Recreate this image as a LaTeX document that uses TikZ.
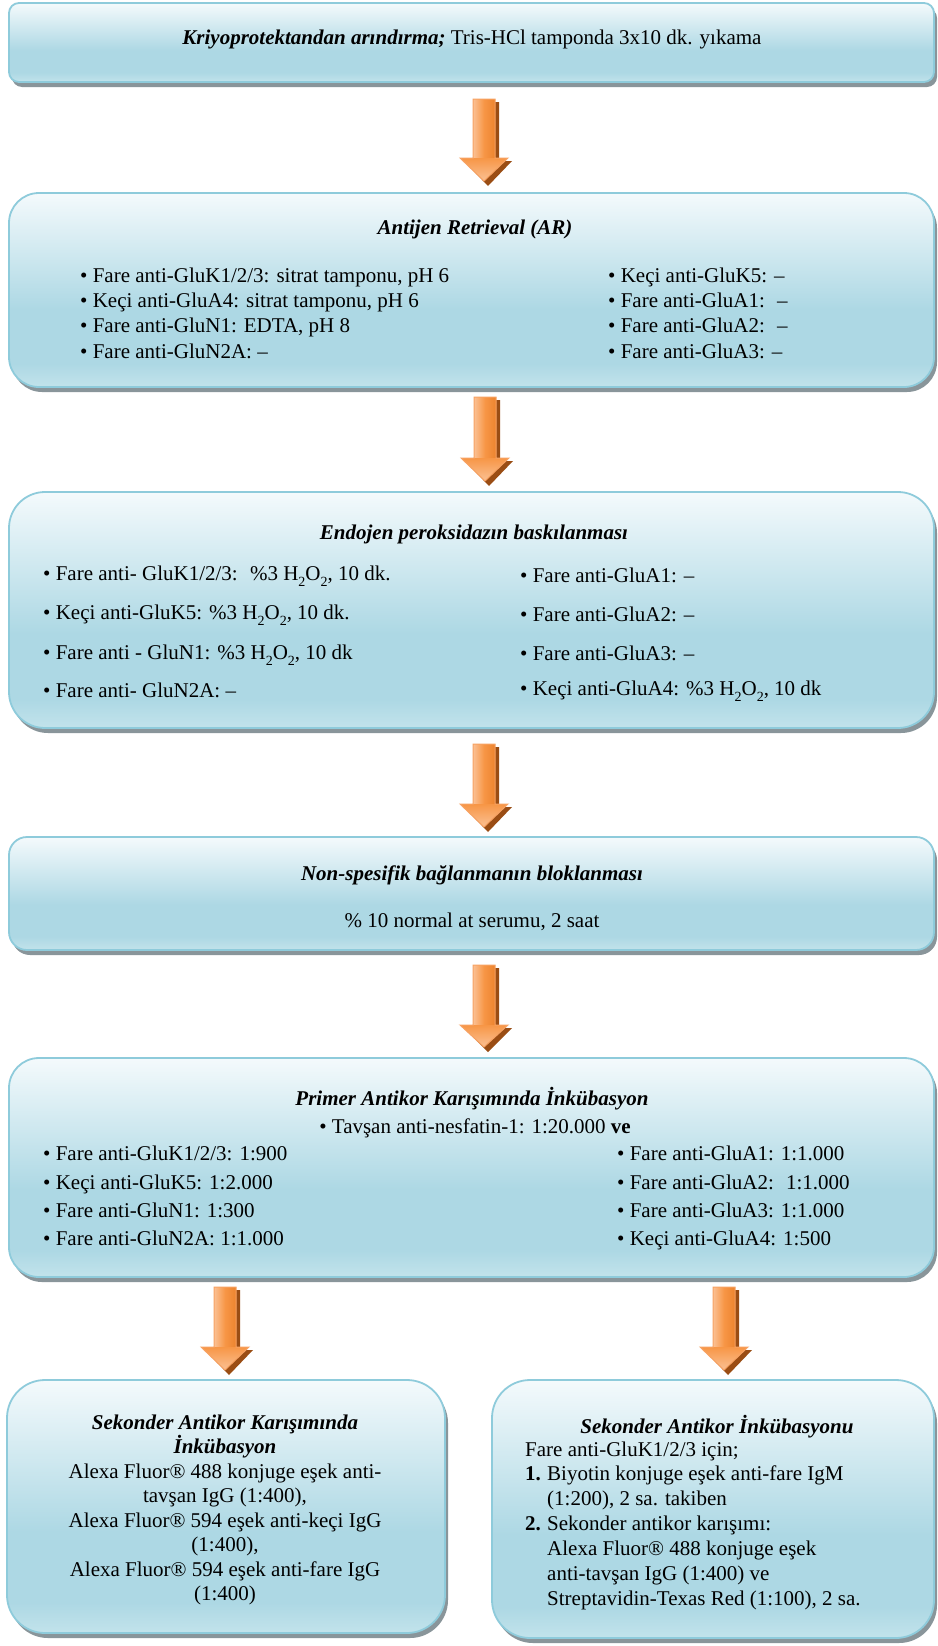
\documentclass[tikz,border=0pt]{standalone}
\usepackage{fontspec}
\setmainfont{Liberation Serif}
\usetikzlibrary{shadows}
\definecolor{bordc}{HTML}{8ECBDB}
\definecolor{shadc}{HTML}{89959A}
\definecolor{boxtop}{HTML}{F4FAFC}
\definecolor{boxmid}{HTML}{ADD8E4}
\definecolor{boxbot}{HTML}{C2E3EB}
\definecolor{arrL}{HTML}{FBC194}
\definecolor{arrM}{HTML}{F79646}
\definecolor{arrD}{HTML}{EC842F}
\definecolor{arrS}{HTML}{9A4D14}
\definecolor{arrE}{HTML}{F7A263}
\pgfdeclareverticalshading{boxshade}{100bp}{color(0bp)=(boxbot); color(25bp)=(boxbot); color(31bp)=(boxmid); color(45bp)=(boxmid); color(75bp)=(boxtop); color(100bp)=(boxtop)}
\tikzset{
  box/.style={draw=bordc, line width=1.8pt, shading=boxshade, inner sep=0pt,
    drop shadow={shadow xshift=3pt, shadow yshift=-5pt, fill=shadc, opacity=1}},
  txt/.style={inner sep=0pt, font=\fontsize{21}{25}\selectfont, text=black},
}
\newcommand\bbi[1]{\textbf{\textit{#1}}}
\newcommand\hsub[1]{\raisebox{-6pt}{\fontsize{14}{14}\selectfont #1}}
\newcommand\hho{H\hsub{2}O\hsub{2}}
% name, left, top, right, bottom, radius
\newcommand\boxat[6]{\node[box, rounded corners=#6pt, minimum width={(#4-#2)*1pt}, minimum height={(#5-#3)*1pt}] (#1) at ({(#2+#4)/2},{(#3+#5)/2}) {};}
% name, x, baseline, text
\newcommand\lineat[4]{\node[txt, anchor=base west] (#1) at (#2,#3) {#4};}
\newcommand\ctrline[4]{\node[txt, anchor=base] (#1) at (#2,#3) {#4};}
% name, cx, top, headstart, tip
\newcommand\blockarrow[5]{%
  \coordinate (#1t) at (#2,#3);
  \coordinate (#1h) at (#2,#5);
  \fill[arrS] ({#2-11+4},{#3+3}) -- ({#2+11+4},{#3+3}) -- ({#2+11+4},{#4+3}) -- ({#2+24+4},{#4+3}) -- ({#2+4},{#5+5}) -- ({#2-24+4},{#4+3}) -- ({#2-11+4},{#4+3}) -- cycle;
  \shade[left color=arrL, right color=arrD, middle color=arrM] ({#2-11},#3) rectangle ({#2+11},{#4+1});
  \shade[top color=arrM, bottom color=arrL] ({#2-24},#4) -- ({#2+24},#4) -- (#2,#5) -- cycle;
  \draw[arrE, line width=1pt, line join=miter] ({#2-11},#3) -- ({#2+11},#3) -- ({#2+11},#4) -- ({#2+24},#4) -- (#2,#5) -- ({#2-24},#4) -- ({#2-11},#4) -- cycle;
}
\begin{document}
\begin{tikzpicture}[x=1pt, y=-1pt]
\useasboundingbox (0,0) rectangle (937,1646);
\fill[white] (0,0) rectangle (937,1646);

% boxes
\boxat{b1}{9}{3}{934}{82}{10}
\boxat{b2}{9}{193}{934}{387}{30}
\boxat{b3}{9}{492}{934}{728}{36}
\boxat{b4}{9}{837}{934}{950}{18}
\boxat{b5}{9}{1058}{934}{1277}{30}
\boxat{b6}{7}{1380}{445}{1633}{38}
\boxat{b7}{492}{1380}{934}{1638}{38}

% arrows
\blockarrow{a1}{484}{99}{158}{181}
\blockarrow{a2}{485}{397}{458}{481}
\blockarrow{a3}{484}{744}{804}{827}
\blockarrow{a4}{484}{965}{1025}{1047}
\blockarrow{a5}{225}{1287}{1347}{1370}
\blockarrow{a6}{724}{1287}{1347}{1370}

% box 1
\ctrline{t1}{472}{45}{\bbi{Kriyoprotektandan arındırma;} Tris-HCl tamponda 3x10 dk. yıkama}

% box 2
\ctrline{t2}{475}{234}{\bbi{Antijen Retrieval (AR)}}
\lineat{t2a}{80}{282}{• Fare anti-GluK1/2/3: sitrat tamponu, pH 6}
\lineat{t2b}{80}{307}{• Keçi anti-GluA4: sitrat tamponu, pH 6}
\lineat{t2c}{80}{332}{• Fare anti-GluN1: EDTA, pH 8}
\lineat{t2d}{80}{358}{• Fare anti-GluN2A: –}
\lineat{t2e}{608}{282}{• Keçi anti-GluK5: –}
\lineat{t2f}{608}{307}{• Fare anti-GluA1: \ –}
\lineat{t2g}{608}{332}{• Fare anti-GluA2: \ –}
\lineat{t2h}{608}{358}{• Fare anti-GluA3: –}

% box 3
\ctrline{t3}{474}{539}{\bbi{Endojen peroksidazın baskılanması}}
\lineat{t3a}{43}{580}{• Fare anti- GluK1/2/3: \ \%3 \hho, 10 dk.}
\lineat{t3b}{43}{619}{• Keçi anti-GluK5: \%3 \hho, 10 dk.}
\lineat{t3c}{43}{659}{• Fare anti - GluN1: \%3 \hho, 10 dk}
\lineat{t3d}{43}{697}{• Fare anti- GluN2A: –}
\lineat{t3e}{520}{582}{• Fare anti-GluA1: –}
\lineat{t3f}{520}{621}{• Fare anti-GluA2: –}
\lineat{t3g}{520}{660}{• Fare anti-GluA3: –}
\lineat{t3h}{520}{695}{• Keçi anti-GluA4: \%3 \hho, 10 dk}

% box 4
\ctrline{t4}{472}{880}{\bbi{Non-spesifik bağlanmanın bloklanması}}
\ctrline{t4a}{472}{927}{\% 10 normal at serumu, 2 saat}

% box 5
\ctrline{t5}{472}{1105}{\bbi{Primer Antikor Karışımında İnkübasyon}}
\ctrline{t5t}{475}{1133}{• Tavşan anti-nesfatin-1: 1:20.000 \textbf{ve}}
\lineat{t5a}{43}{1160}{• Fare anti-GluK1/2/3: 1:900}
\lineat{t5b}{43}{1189}{• Keçi anti-GluK5: 1:2.000}
\lineat{t5c}{43}{1217}{• Fare anti-GluN1: 1:300}
\lineat{t5d}{43}{1245}{• Fare anti-GluN2A: 1:1.000}
\lineat{t5e}{617}{1160}{• Fare anti-GluA1: 1:1.000}
\lineat{t5f}{617}{1189}{• Fare anti-GluA2: \ 1:1.000}
\lineat{t5g}{617}{1217}{• Fare anti-GluA3: 1:1.000}
\lineat{t5h}{617}{1245}{• Keçi anti-GluA4: 1:500}

% box 6 left
\ctrline{t6}{225}{1429}{\bbi{Sekonder Antikor Karışımında}}
\ctrline{t6b}{225}{1453}{\bbi{İnkübasyon}}
\ctrline{t6c}{225}{1478}{Alexa Fluor® 488 konjuge eşek anti-}
\ctrline{t6d}{225}{1502}{tavşan IgG (1:400),}
\ctrline{t6e}{225}{1527}{Alexa Fluor® 594 eşek anti-keçi IgG}
\ctrline{t6f}{225}{1551}{(1:400),}
\ctrline{t6g}{225}{1576}{Alexa Fluor® 594 eşek anti-fare IgG}
\ctrline{t6h}{225}{1600}{(1:400)}

% box 6 right
\ctrline{t7}{717}{1433}{\bbi{Sekonder Antikor İnkübasyonu}}
\lineat{t7a}{525}{1456}{Fare anti-GluK1/2/3 için;}
\lineat{t7b}{525}{1480}{\textbf{1.}}
\lineat{t7c}{547}{1480}{Biyotin konjuge eşek anti-fare IgM}
\lineat{t7d}{547}{1505}{(1:200), 2 sa. takiben}
\lineat{t7e}{525}{1530}{\textbf{2.}}
\lineat{t7f}{547}{1530}{Sekonder antikor karışımı:}
\lineat{t7g}{547}{1555}{Alexa Fluor® 488 konjuge eşek}
\lineat{t7h}{547}{1580}{anti-tavşan IgG (1:400) ve}
\lineat{t7i}{547}{1605}{Streptavidin-Texas Red (1:100), 2 sa.}
\end{tikzpicture}
\end{document}
